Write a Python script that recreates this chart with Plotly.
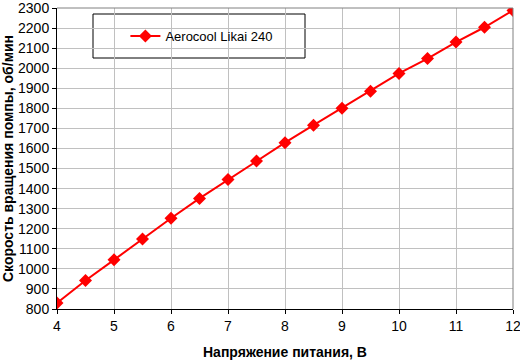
import plotly.graph_objects as go

voltage = [4, 4.5, 5, 5.5, 6, 6.5, 7, 7.5, 8, 8.5, 9, 9.5, 10, 10.5, 11, 11.5, 12]
rpm = [830, 942, 1045, 1149, 1252, 1351, 1445, 1538, 1629, 1716, 1801, 1885, 1974, 2048, 2130, 2204, 2288]
series_name = "Aerocool Likai 240"
x_title = "Напряжение питания, В"
y_title = "Скорость вращения помпы, об/мин"

T, B, L, R = 8, 53, 57, 7
PH = 362 - T - B
PW = 520 - L - R

fig = go.Figure()
fig.add_trace(go.Scatter(
    x=voltage, y=rpm, name=series_name, mode="lines+markers",
    line=dict(color="#ff0000", width=2),
    marker=dict(symbol="diamond", size=10, color="#ff0000"),
    showlegend=True,
))

font = "Liberation Sans, Arial, sans-serif"
fig.update_layout(
    width=520, height=362,
    margin=dict(l=L, r=R, t=T, b=B),
    paper_bgcolor="white", plot_bgcolor="white",
    font=dict(family=font, size=14, color="black"),
    showlegend=True,
    legend=dict(x=0.15, y=1 - (36 - T) / PH, xanchor="left", yanchor="middle",
                bgcolor="rgba(0,0,0,0)", borderwidth=0,
                font=dict(size=13, family=font)),
    shapes=[dict(type="rect", xref="paper", yref="paper",
                 x0=(93 - L) / PW, x1=(305 - L) / PW,
                 y0=1 - (58 - T) / PH, y1=1 - (14 - T) / PH,
                 line=dict(color="black", width=1), fillcolor="white", layer="below")],
)
fig.update_xaxes(
    range=[4, 12], tickmode="linear", tick0=4, dtick=1,
    showgrid=True, gridcolor="#c0c0c0", gridwidth=1,
    showline=True, linecolor="black", linewidth=1, mirror=False,
    ticks="outside", ticklen=4, tickcolor="black",
    ticklabeloverflow="allow", automargin=False,
    tickfont=dict(size=14, family=font),
    zeroline=False,
    title=dict(text="<b>" + x_title + "</b>", font=dict(size=14, family=font), standoff=14),
)
fig.update_yaxes(
    range=[800, 2300], tickmode="linear", tick0=800, dtick=100,
    showgrid=True, gridcolor="#c0c0c0", gridwidth=1,
    showline=True, linecolor="black", linewidth=1,
    ticks="outside", ticklen=4, tickcolor="black",
    ticklabeloverflow="allow", automargin=False,
    tickfont=dict(size=14, family=font),
    zeroline=False,
    title=dict(text="<b>" + y_title + "</b>", font=dict(size=14, family=font), standoff=5),
)
# top and right plot frame in gray
fig.add_shape(type="line", xref="paper", yref="paper", x0=0, x1=1, y0=1, y1=1,
              line=dict(color="#808080", width=1))
fig.add_shape(type="line", xref="paper", yref="paper", x0=1, x1=1, y0=0, y1=1,
              line=dict(color="#808080", width=1))

fig.write_html("out.html")
